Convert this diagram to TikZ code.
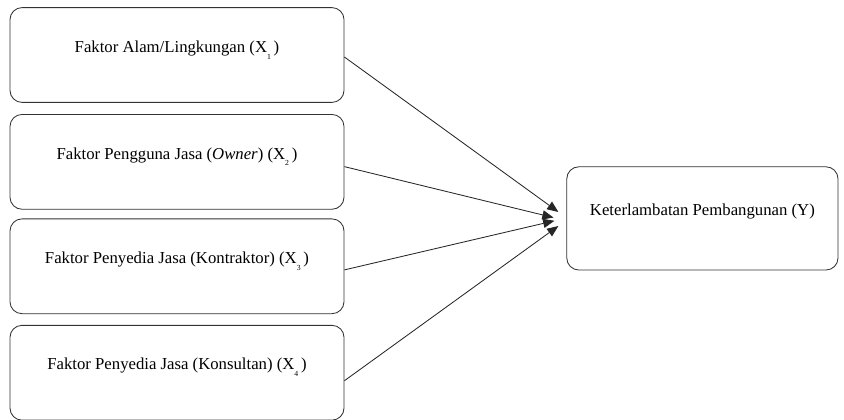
\documentclass[tikz,border=0pt]{standalone}
\usepackage{fontspec}
\setmainfont{Liberation Serif}
\usetikzlibrary{arrows.meta, positioning}
\tikzset{
    factorbox/.style={draw=black!80, semithick, fill=white, rounded corners=0.3cm, align=center,
        minimum width=8.35cm, minimum height=2.37cm, text height=8pt, text depth=12pt,
        font=\fontsize{11.9}{13}\selectfont},
    outcomebox/.style={factorbox, minimum width=6.78cm, minimum height=2.58cm},
    arrow/.style={-{Triangle[length=8pt,width=6.5pt]}, semithick, black!85}
}
\newcommand{\xsub}[1]{X\raisebox{-0.9ex}{\fontsize{5.5}{5.5}\selectfont #1}\,)}

\begin{document}
\begin{tikzpicture}
        \useasboundingbox (0,0) rectangle (21.1,-10.475);
        \node [factorbox] (alam) at (4.425,-1.375) {Faktor Alam/Lingkungan (\xsub{1}};
        \node [factorbox, below=0.28cm of alam] (owner) {Faktor Pengguna Jasa (\textit{Owner}) (\xsub{2}};
        \node [factorbox, below=0.22cm of owner] (kontraktor) {Faktor Penyedia Jasa (Kontraktor) (\xsub{3}};
        \node [factorbox, below=0.27cm of kontraktor] (konsultan) {Faktor Penyedia Jasa (Konsultan) (\xsub{4}};
        \node [outcomebox] (delay) at (17.56,-5.46) {Keterlambatan Pembangunan (Y)};
        \draw [arrow] ([yshift=-0.05cm]alam.east) -- ([xshift=-0.2cm, yshift=0.16cm]delay.west);
        \draw [arrow] ([yshift=-0.12cm]owner.east) -- ([xshift=-0.32cm, yshift=0.02cm]delay.west);
        \draw [arrow] ([yshift=-0.09cm]kontraktor.east) -- ([xshift=-0.3cm, yshift=-0.06cm]delay.west);
        \draw [arrow] ([yshift=-0.2cm]konsultan.east) -- ([xshift=-0.2cm, yshift=-0.19cm]delay.west);
    \end{tikzpicture}
\end{document}
